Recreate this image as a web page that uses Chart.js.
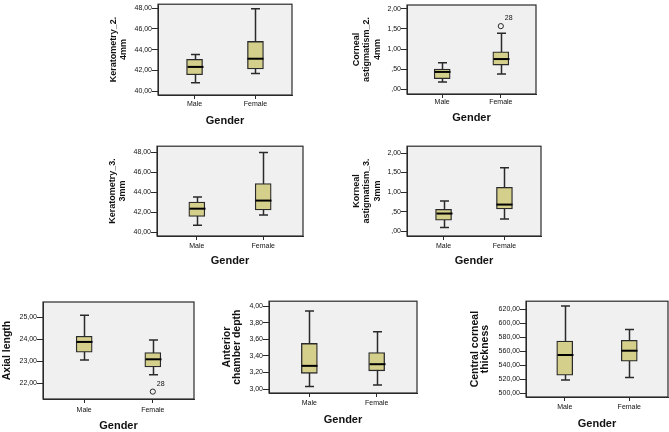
<!DOCTYPE html>
<html><head><meta charset="utf-8">
<script src="https://cdn.jsdelivr.net/npm/chart.js@4.4.1/dist/chart.umd.min.js"></script>
<style>
html,body{margin:0;padding:0;background:#fff;width:669px;height:432px;overflow:hidden;position:relative}
canvas{position:absolute}
</style>
</head><body>
<script>
const categories = ['Male', 'Female'];
// each box: [lower whisker, Q1, median, Q3, upper whisker]
const kerat2Male = [40.79, 41.57, 42.33, 43.06, 43.53];
const kerat2Female = [41.70, 42.14, 43.12, 44.79, 47.94];
const astig2Male = [0.18, 0.26, 0.43, 0.50, 0.66];
const astig2Female = [0.38, 0.60, 0.75, 0.93, 1.39];
const astig2Outliers = [null, 1.57];
const kerat3Male = [40.68, 41.56, 42.34, 43.00, 43.51];
const kerat3Female = [41.72, 42.21, 43.15, 44.85, 47.95];
const astig3Male = [0.09, 0.28, 0.45, 0.56, 0.77];
const astig3Female = [0.31, 0.57, 0.68, 1.12, 1.62];
const axialMale = [23.07, 23.42, 23.89, 24.15, 25.10];
const axialFemale = [22.40, 22.75, 23.10, 23.41, 23.98];
const axialOutliers = [null, 21.63];
const acdMale = [3.03, 3.19, 3.28, 3.55, 3.94];
const acdFemale = [3.05, 3.22, 3.30, 3.44, 3.69];
const cctMale = [518.6, 525.6, 554.4, 574.4, 624.2];
const cctFemale = [522.3, 545.6, 560.5, 575.3, 590.7];
const outlierCaseLabels = ['', '28'];
const keratTicks = [40, 42, 44, 46, 48];
const astigTicks = [0, 0.5, 1, 1.5, 2];
const axialTicks = [22, 23, 24, 25];
const acdTicks = [3.0, 3.2, 3.4, 3.6, 3.8, 4.0];
const cctTicks = [500, 520, 540, 560, 580, 600, 620];

Chart.defaults.font.family = 'Arial, "Liberation Sans", sans-serif';
const BOX = '#d5cf8c';
const EDGE = '#2a2a2a';
const BG = '#f0f0f0';
const TXT = '#111';

function fmt(v) {
  let s = Number(v).toFixed(2).replace('.', ',');
  if (s.startsWith('0,')) s = s.slice(1);
  return s;
}

function makePanel(p) {
  const c = document.createElement('canvas');
  const y0 = p.plot.t - 2;
  const w = p.plot.r + 4 - p.x0, h = p.bottom - y0;
  c.width = w; c.height = h;
  c.style.left = p.x0 + 'px'; c.style.top = y0 + 'px';
  c.style.width = w + 'px'; c.style.height = h + 'px';
  document.body.appendChild(c);
  const yW = p.plot.l - p.x0;
  const xH = h - (p.plot.b - y0);
  const stats = [p.male, p.female];
  const datasets = [{
    type: 'bar',
    data: stats.map((s, i) => ({x: i + 1, y: [s[1], s[3]]})),
    backgroundColor: BOX, borderColor: EDGE, borderWidth: 1.3,
    borderSkipped: false, barThickness: 16
  }];
  if (p.outliers) {
    datasets.push({
      type: 'scatter',
      data: p.outliers.map((v, i) => ({x: i + 1, y: v})).filter(d => d.y !== null),
      pointRadius: 2.6, pointBackgroundColor: 'rgba(0,0,0,0)',
      pointBorderColor: EDGE, pointBorderWidth: 1
    });
  }
  const plugin = {
    id: 'boxplot',
    beforeDraw(chart) {
      const a = chart.chartArea, ctx = chart.ctx;
      ctx.save(); ctx.fillStyle = BG;
      ctx.fillRect(a.left, a.top, a.right - a.left, a.bottom - a.top);
      ctx.restore();
    },
    beforeDatasetsDraw(chart) {
      const ctx = chart.ctx, xs = chart.scales.x, ys = chart.scales.y;
      ctx.save(); ctx.strokeStyle = EDGE; ctx.lineWidth = 1.5;
      stats.forEach((s, i) => {
        const x = Math.round(xs.getPixelForValue(i + 1)) + 0.5;
        const lo = ys.getPixelForValue(s[0]), hi = ys.getPixelForValue(s[4]);
        ctx.beginPath();
        ctx.moveTo(x, lo); ctx.lineTo(x, hi);
        ctx.moveTo(x - 4.5, lo); ctx.lineTo(x + 4.5, lo);
        ctx.moveTo(x - 4.5, hi); ctx.lineTo(x + 4.5, hi);
        ctx.stroke();
      });
      ctx.restore();
    },
    afterDatasetsDraw(chart) {
      const ctx = chart.ctx, xs = chart.scales.x, ys = chart.scales.y;
      ctx.save(); ctx.strokeStyle = '#000'; ctx.lineWidth = 2;
      stats.forEach((s, i) => {
        const x = Math.round(xs.getPixelForValue(i + 1)) + 0.5;
        const m = ys.getPixelForValue(s[2]);
        ctx.beginPath(); ctx.moveTo(x - 8, m); ctx.lineTo(x + 8, m); ctx.stroke();
      });
      if (p.outliers) {
        ctx.fillStyle = TXT; ctx.font = '7px Arial, "Liberation Sans", sans-serif';
        ctx.textAlign = 'left'; ctx.textBaseline = 'middle';
        p.outliers.forEach((v, i) => {
          if (v === null) return;
          const x = xs.getPixelForValue(i + 1), y = ys.getPixelForValue(v);
          ctx.fillText(outlierCaseLabels[i], x + 4, y - 8);
        });
      }
      ctx.restore();
    },
    afterDraw(chart) {
      const a = chart.chartArea, ctx = chart.ctx;
      ctx.save(); ctx.strokeStyle = EDGE; ctx.lineWidth = 1.2;
      ctx.strokeRect(a.left, a.top, a.right - a.left, a.bottom - a.top);
      ctx.restore();
    }
  };
  new Chart(c, {
    type: 'bar',
    data: {datasets},
    options: {
      responsive: false, animation: false, devicePixelRatio: 1,
      layout: {padding: {top: 2, right: 4, left: 0, bottom: 0}},
      plugins: {legend: {display: false}, tooltip: {enabled: false}},
      scales: {
        x: {
          type: 'linear', min: 0.4, max: 2.6, offset: false,
          afterBuildTicks: s => { s.ticks = categories.map((c, i) => ({value: i + 1})); },
          afterFit: s => { s.height = xH; },
          ticks: {callback: v => categories[v - 1] || '', font: {size: 7}, color: TXT,
                  padding: p.xPad, maxRotation: 0, autoSkip: false},
          grid: {display: true, offset: false, drawOnChartArea: false, drawTicks: true,
                 tickLength: 4, color: EDGE, tickWidth: 1},
          border: {display: true, color: EDGE, width: 1},
          title: {display: true, text: 'Gender', font: {size: 11, weight: 'bold'},
                  color: TXT, padding: 0}
        },
        y: {
          type: 'linear', min: p.ymin, max: p.ymax,
          afterBuildTicks: s => { s.ticks = p.ticks.map(v => ({value: v})); },
          afterFit: s => { s.width = yW; },
          ticks: {callback: v => fmt(v), font: {size: 7}, color: TXT, padding: 0, autoSkip: false},
          grid: {drawOnChartArea: false, drawTicks: true, tickLength: 6, color: EDGE, tickWidth: 1},
          border: {display: true, color: EDGE, width: 1},
          title: {display: true, text: p.title,
                  font: {size: p.tfs, weight: 'bold', lineHeight: p.tlh},
                  color: TXT, padding: 0}
        }
      }
    },
    plugins: [plugin]
  });
}

makePanel({x0: 108, bottom: 128, plot: {l: 158, r: 292, t: 2, b: 95}, xPad: 1,
  ymin: 39.62, ymax: 48.38, ticks: keratTicks, male: kerat2Male, female: kerat2Female,
  title: ['Keratometry_2.', '4mm'], tfs: 9, tlh: 1.17});
makePanel({x0: 351, bottom: 125, plot: {l: 407, r: 537, t: 2, b: 94}, xPad: 0,
  ymin: -0.12, ymax: 2.096, ticks: astigTicks, male: astig2Male, female: astig2Female,
  outliers: astig2Outliers,
  title: ['Corneal', 'astigmatism_2.', '4mm'], tfs: 9, tlh: 1.17});
makePanel({x0: 107, bottom: 268, plot: {l: 157, r: 303, t: 144, b: 236}, xPad: 2,
  ymin: 39.61, ymax: 48.585, ticks: keratTicks, male: kerat3Male, female: kerat3Female,
  title: ['Keratometry_3.', '3mm'], tfs: 9, tlh: 1.17});
makePanel({x0: 351, bottom: 268, plot: {l: 407, r: 541, t: 144, b: 236}, xPad: 2,
  ymin: -0.125, ymax: 2.175, ticks: astigTicks, male: astig3Male, female: astig3Female,
  title: ['Korneal', 'astigmatism_3.', '3mm'], tfs: 9, tlh: 1.17});
makePanel({x0: 1, bottom: 433, plot: {l: 43, r: 195, t: 299, b: 399}, xPad: 3,
  ymin: 21.294, ymax: 25.706, ticks: axialTicks, male: axialMale, female: axialFemale,
  outliers: axialOutliers,
  title: 'Axial length', tfs: 10.5, tlh: 1.2});
makePanel({x0: 222, bottom: 427, plot: {l: 269, r: 417, t: 299, b: 393}, xPad: 2,
  ymin: 2.953, ymax: 4.059, ticks: acdTicks, male: acdMale, female: acdFemale,
  title: ['Anterior', 'chamber depth'], tfs: 10.5, tlh: 0.95});
makePanel({x0: 470, bottom: 431, plot: {l: 526, r: 668, t: 299, b: 397}, xPad: 2,
  ymin: 494.4, ymax: 631.2, ticks: cctTicks, male: cctMale, female: cctFemale,
  title: ['Central corneal', 'thickness'], tfs: 10.5, tlh: 0.95});
</script>
</body></html>
